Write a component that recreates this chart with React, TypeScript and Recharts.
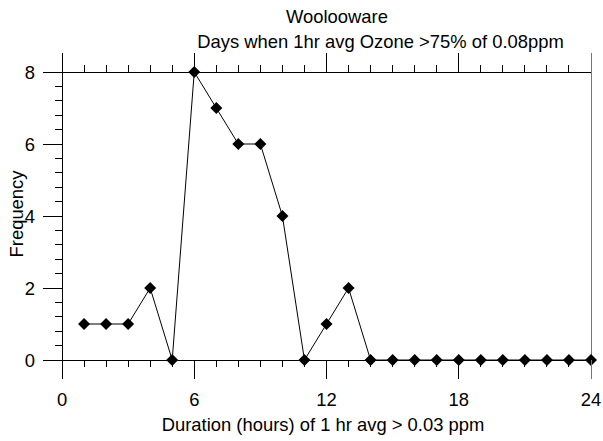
import { Line, LineChart, XAxis, YAxis } from 'recharts'

const hours = [1, 2, 3, 4, 5, 6, 7, 8, 9, 10, 11, 12, 13, 14, 15, 16, 17, 18, 19, 20, 21, 22, 23, 24]
const frequency = [1, 1, 1, 2, 0, 8, 7, 6, 6, 4, 0, 1, 2, 0, 0, 0, 0, 0, 0, 0, 0, 0, 0, 0]

const xTicks = [0, 1, 2, 3, 4, 5, 6, 7, 8, 9, 10, 11, 12, 13, 14, 15, 16, 17, 18, 19, 20, 21, 22, 23, 24]
const yTicks = [0, 0.4, 0.8, 1.2, 1.6, 2, 2.4, 2.8, 3.2, 3.6, 4, 4.4, 4.8, 5.2, 5.6, 6, 6.4, 6.8, 7.2, 7.6, 8]

const title = 'Woolooware'
const subtitle = 'Days when 1hr avg Ozone >75% of 0.08ppm'
const xLabel = 'Duration (hours) of 1 hr avg > 0.03 ppm'
const yLabel = 'Frequency'

const data = hours.map((h, i) => ({ hour: h, freq: frequency[i] }))

const FONT = '"Liberation Sans", Arial, sans-serif'
const FS = 18.4

const isMajorX = (v: number) => v % 6 === 0
const isMajorY = (v: number) => Math.abs(v / 2 - Math.round(v / 2)) < 1e-6

function BottomTick({ x, y, payload }: any) {
  const major = isMajorX(payload.value)
  const stroke = payload.value === 24 ? '#777' : '#000'
  return (
    <g>
      <line x1={x} x2={x} y1={y} y2={y + (major ? 19 : 7)} stroke={stroke} shapeRendering="crispEdges" />
      {major && (
        <text x={x} y={y + 46} textAnchor="middle" fontFamily={FONT} fontSize={FS} fill="#000">
          {payload.value}
        </text>
      )}
    </g>
  )
}

function TopTick({ x, y, payload }: any) {
  const major = isMajorX(payload.value)
  const stroke = payload.value === 24 ? '#777' : '#000'
  return (
    <line x1={x} x2={x} y1={y} y2={y - (major ? 19 : 7)} stroke={stroke} shapeRendering="crispEdges" />
  )
}

function LeftTick({ x, y, payload }: any) {
  const major = isMajorY(payload.value)
  return (
    <g>
      <line x1={x - (major ? 19 : 7)} x2={x} y1={y} y2={y} stroke="#000" shapeRendering="crispEdges" />
      {major && (
        <text x={x - 27} y={y + 6.5} textAnchor="end" fontFamily={FONT} fontSize={FS} fill="#000">
          {Math.round(payload.value)}
        </text>
      )}
    </g>
  )
}

function Diamond({ cx, cy, index }: any) {
  const r = 6
  return (
    <path
      key={index}
      d={`M${cx},${cy - r}L${cx + r},${cy}L${cx},${cy + r}L${cx - r},${cy}Z`}
      fill="#000"
    />
  )
}

export default function App() {
  return (
    <div style={{ position: 'absolute', left: 0, top: 0, width: 603, height: 441, background: '#fff' }}>
      <LineChart width={603} height={441} data={data} margin={{ top: 71, right: 11, bottom: 80, left: 61 }}>
        <XAxis
          xAxisId="bottom"
          dataKey="hour"
          type="number"
          domain={[0, 24]}
          ticks={xTicks}
          interval={0}
          height={1}
          tickSize={0}
          tickMargin={0}
          tickLine={false}
          tick={<BottomTick />}
          axisLine={{ stroke: '#000', shapeRendering: 'crispEdges' }}
        />
        <XAxis
          xAxisId="top"
          orientation="top"
          dataKey="hour"
          type="number"
          domain={[0, 24]}
          ticks={xTicks}
          interval={0}
          height={1}
          tickSize={0}
          tickMargin={0}
          tickLine={false}
          tick={<TopTick />}
          axisLine={{ stroke: '#000', shapeRendering: 'crispEdges' }}
        />
        <YAxis
          yAxisId="left"
          type="number"
          domain={[0, 8]}
          ticks={yTicks}
          interval={0}
          width={1}
          tickSize={0}
          tickMargin={0}
          tickLine={false}
          tick={<LeftTick />}
          axisLine={{ stroke: '#000', shapeRendering: 'crispEdges' }}
        />
        <YAxis
          yAxisId="right"
          orientation="right"
          type="number"
          domain={[0, 8]}
          width={1}
          tick={false}
          tickLine={false}
          axisLine={{ stroke: '#777', shapeRendering: 'crispEdges' }}
        />
        <Line
          xAxisId="bottom"
          yAxisId="left"
          dataKey="freq"
          stroke="#000"
          strokeWidth={1}
          dot={Diamond}
          activeDot={false}
          isAnimationActive={false}
        />
      </LineChart>
      <svg
        width={603}
        height={441}
        style={{ position: 'absolute', left: 0, top: 0, pointerEvents: 'none' }}
      >
        <text x={337} y={23} textAnchor="middle" fontFamily={FONT} fontSize={FS} fill="#000">
          {title}
        </text>
        <text x={380.5} y={48} textAnchor="middle" fontFamily={FONT} fontSize={FS} fill="#000">
          {subtitle}
        </text>
        <text x={323} y={431} textAnchor="middle" fontFamily={FONT} fontSize={FS} fill="#000">
          {xLabel}
        </text>
        <text
          transform="translate(23,214) rotate(-90)"
          textAnchor="middle"
          fontFamily={FONT}
          fontSize={FS}
          fill="#000"
        >
          {yLabel}
        </text>
      </svg>
    </div>
  )
}
